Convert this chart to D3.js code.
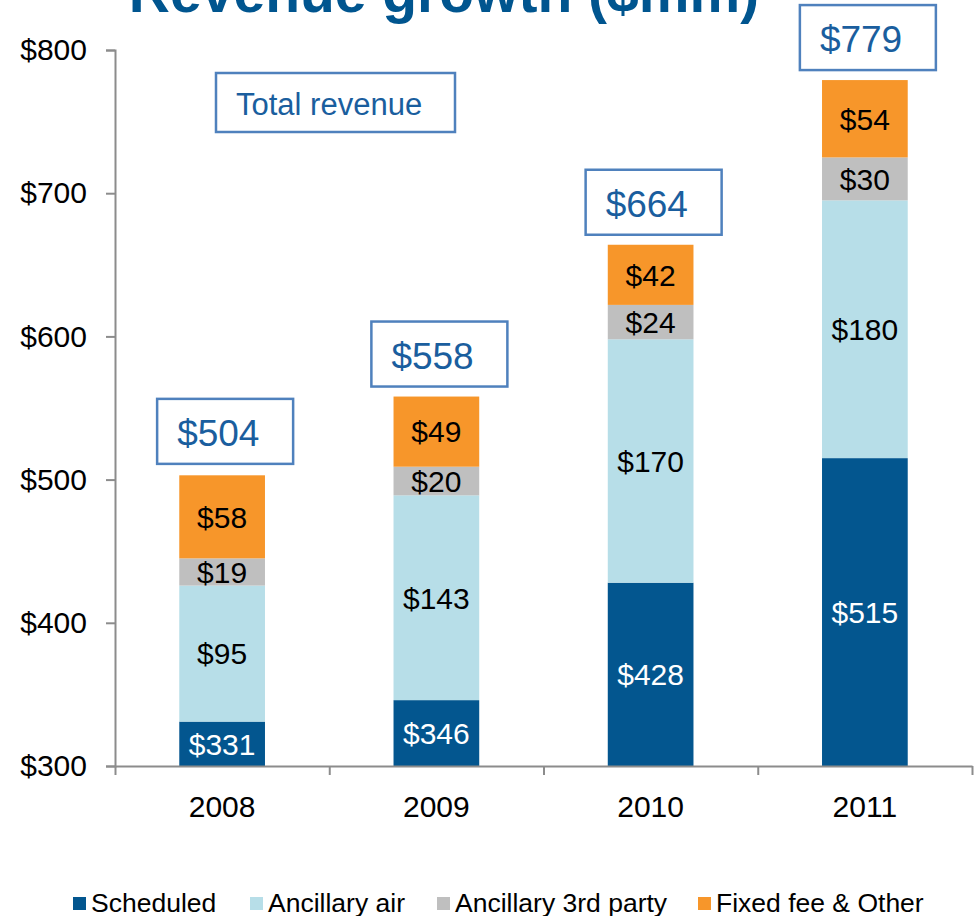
<!DOCTYPE html>
<html>
<head>
<meta charset="utf-8">
<script src="https://cdn.jsdelivr.net/npm/d3@7"></script>
<style>
    body { margin: 0; background: #fff; }
    svg { display: block; font-family: "Liberation Sans", Arial, sans-serif; }
</style>
</head>
<body>
<div id="chart"></div>
<script>
// values in $mm
const years = ['2008', '2009', '2010', '2011'];
const scheduled = [331, 346, 428, 515];
const ancillaryAir = [95, 143, 170, 180];
const ancillary3rd = [19, 20, 24, 30];
const fixedFee = [58, 49, 42, 54];
const totals = [504, 558, 664, 779];
const yTicks = [300, 400, 500, 600, 700, 800];

const seriesKeys = ['Scheduled', 'Ancillary air', 'Ancillary 3rd party', 'Fixed fee & Other'];
const seriesColors = ['#03568f', '#b7dee8', '#bfbfbf', '#f7962a'];
const labelColors = ['#ffffff', '#000000', '#000000', '#000000'];

const width = 979, height = 916;
const margin = {top: 50, right: 7, bottom: 150, left: 115};

const rows = years.map((y, i) => ({
    year: y,
    'Scheduled': scheduled[i],
    'Ancillary air': ancillaryAir[i],
    'Ancillary 3rd party': ancillary3rd[i],
    'Fixed fee & Other': fixedFee[i],
    total: totals[i]
}));

const svg = d3.select('#chart').append('svg')
    .attr('width', width)
    .attr('height', height);

const x = d3.scaleBand()
    .domain(years)
    .range([margin.left, width - margin.right])
    .paddingInner(0.6)
    .paddingOuter(0.3);

const y = d3.scaleLinear()
    .domain([300, 800])
    .range([height - margin.bottom, margin.top]);

const stacked = d3.stack().keys(seriesKeys)(rows);

// title (cut off at top, as in the source slide)
svg.append('text')
    .attr('x', 444)
    .attr('y', 12)
    .attr('text-anchor', 'middle')
    .attr('font-size', '57px')
    .attr('font-weight', 'bold')
    .attr('fill', '#00558f')
    .text('Revenue growth ($mm)');

// bars
const layers = svg.selectAll('.layer')
    .data(stacked)
    .enter().append('g')
    .attr('class', 'layer')
    .attr('fill', (d, i) => seriesColors[i]);

layers.selectAll('rect')
    .data(d => d)
    .enter().append('rect')
    .attr('x', d => x(d.data.year))
    .attr('width', x.bandwidth())
    .attr('y', d => y(d[1]))
    .attr('height', d => y(Math.max(d[0], 300)) - y(d[1]));

// segment labels
stacked.forEach((layer, li) => {
    svg.append('g').selectAll('text')
        .data(layer)
        .enter().append('text')
        .attr('x', d => x(d.data.year) + x.bandwidth() / 2)
        .attr('y', d => y((Math.max(d[0], 300) + d[1]) / 2))
        .attr('dy', '0.36em')
        .attr('text-anchor', 'middle')
        .attr('font-size', '30px')
        .attr('fill', labelColors[li])
        .text(d => '$' + (d[1] - d[0]));
});

// y axis
const yAxis = svg.append('g')
    .attr('transform', `translate(${margin.left},0)`)
    .call(d3.axisLeft(y).tickValues(yTicks).tickSize(9).tickPadding(19).tickFormat(d => '$' + d));
yAxis.select('.domain').attr('stroke', '#8c8c8c').attr('stroke-width', 2);
yAxis.selectAll('.tick line').attr('stroke', '#8c8c8c').attr('stroke-width', 2);
yAxis.selectAll('.tick text').attr('font-size', '30px').attr('fill', '#000')
    .attr('font-family', '"Liberation Sans", Arial, sans-serif');

// x axis: tick marks at band edges, labels at band centres
const xEdge = d3.scaleLinear().domain([0, years.length]).range(x.range());
const xAxis = svg.append('g')
    .attr('transform', `translate(0,${y(300)})`)
    .call(d3.axisBottom(xEdge).tickValues(d3.range(years.length + 1)).tickSize(9).tickSizeOuter(0).tickFormat(''));
xAxis.select('.domain').attr('stroke', '#8c8c8c').attr('stroke-width', 2);
xAxis.selectAll('.tick line').attr('stroke', '#8c8c8c').attr('stroke-width', 2);

svg.append('g').selectAll('text')
    .data(years)
    .enter().append('text')
    .attr('x', d => x(d) + x.bandwidth() / 2)
    .attr('y', 817)
    .attr('text-anchor', 'middle')
    .attr('font-size', '30px')
    .attr('fill', '#000')
    .text(d => d);

// total revenue boxes
const boxW = 136, boxH = 65;
const boxes = svg.append('g').selectAll('g')
    .data(rows)
    .enter().append('g')
    .attr('transform', d => `translate(${x(d.year) + x.bandwidth() / 2 + 3 - boxW / 2},${y(d.total) - 10 - boxH})`);

boxes.append('rect')
    .attr('width', boxW)
    .attr('height', boxH)
    .attr('fill', '#fff')
    .attr('stroke', '#4f81bd')
    .attr('stroke-width', 2.5);

boxes.append('text')
    .attr('x', 20)
    .attr('y', 47)
    .attr('font-size', '37px')
    .attr('fill', '#1a5e9e')
    .text(d => '$' + d.total);

// "Total revenue" callout
const callout = svg.append('g').attr('transform', 'translate(216,73)');
callout.append('rect')
    .attr('width', 239)
    .attr('height', 59)
    .attr('fill', '#fff')
    .attr('stroke', '#4f81bd')
    .attr('stroke-width', 2.5);
callout.append('text')
    .attr('x', 20)
    .attr('y', 42)
    .attr('font-size', '31px')
    .attr('fill', '#1a5e9e')
    .text('Total revenue');

// legend
const legendX = [73, 250, 437, 698];
const legend = svg.append('g').selectAll('g')
    .data(seriesKeys)
    .enter().append('g')
    .attr('transform', (d, i) => `translate(${legendX[i]},0)`);

legend.append('rect')
    .attr('y', 897)
    .attr('width', 13)
    .attr('height', 13)
    .attr('fill', (d, i) => seriesColors[i]);

legend.append('text')
    .attr('x', 18)
    .attr('y', 912)
    .attr('font-size', '26.5px')
    .attr('fill', '#000')
    .text(d => d);
</script>
</body>
</html>
